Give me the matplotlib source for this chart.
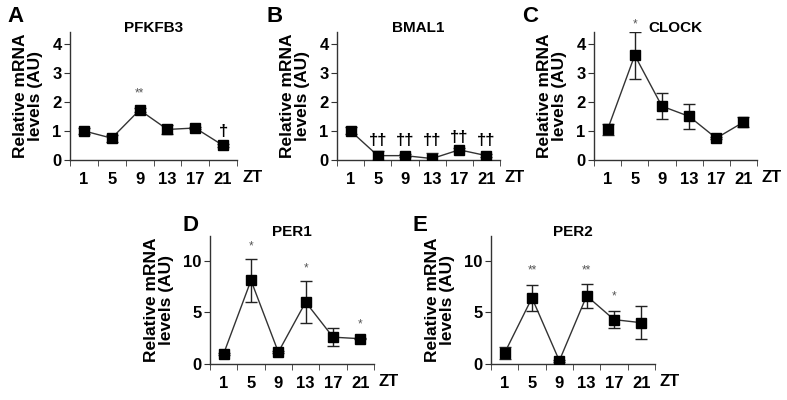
import matplotlib
matplotlib.use('Agg')
import matplotlib.pyplot as plt
import numpy as np

plt.rcParams['font.family'] = ['Liberation Sans', 'DejaVu Sans']

zt = ['1', '5', '9', '13', '17', '21']

pfkfb3 = [1.0, 0.75, 1.72, 1.05, 1.1, 0.5]
pfkfb3_err = [0.1, 0.12, 0.07, 0.17, 0.05, 0.04]
pfkfb3_sig = ['', '', '**', '', '', '†']

bmal1 = [1.0, 0.15, 0.15, 0.05, 0.35, 0.15]
bmal1_err = [0.12, 0.15, 0.05, 0.2, 0.05, 0.05]
bmal1_sig = ['', '††', '††', '††', '††', '††']

clock = [1.05, 3.6, 1.85, 1.5, 0.75, 1.3]
clock_err = [0.2, 0.8, 0.45, 0.43, 0.04, 0.18]
clock_sig = ['', '*', '', '', '', '']

per1 = [1.0, 8.1, 1.15, 6.0, 2.6, 2.45]
per1_err = [0.1, 2.1, 0.1, 2.0, 0.85, 0.05]
per1_sig = ['', '*', '', '*', '', '*']

per2 = [1.08, 6.4, 0.32, 6.6, 4.3, 4.0]
per2_err = [0.55, 1.3, 0.1, 1.15, 0.85, 1.6]
per2_sig = ['', '**', '', '**', '*', '']

W, H = 787, 400
fig = plt.figure(figsize=(W / 100, H / 100), dpi=100)


def panel(left, top, right, bottom, letter, letter_xy, title, vals, errs, sig,
          ymax, yticks, sig_y):
    ax = fig.add_axes([left / W, 1 - bottom / H, (right - left) / W, (bottom - top) / H])
    x = np.arange(len(vals))
    ax.errorbar(x, vals, yerr=errs, fmt='s', color='black', ecolor='#222222',
                elinewidth=1, capsize=4.5, capthick=1, markersize=7.5, zorder=3)
    ax.plot(x, vals, color='#333333', lw=1, zorder=2)
    ax.set_xlim(-0.5, len(vals) - 0.5)
    ax.set_ylim(0, ymax)
    ax.set_yticks(yticks)
    ax.set_yticklabels([str(t) for t in yticks], fontsize=12, fontweight='bold')
    ax.set_xticks(x)
    ax.set_xticklabels(zt, fontsize=12, fontweight='bold')
    ax.tick_params(axis='x', which='major', length=0, pad=9)
    ax.set_xticks(np.arange(len(vals) + 1) - 0.5, minor=True)
    ax.tick_params(axis='x', which='minor', length=4, direction='out', color='#333333')
    ax.tick_params(axis='y', length=4, direction='out', color='#333333', pad=2)
    for s in ['top', 'right']:
        ax.spines[s].set_visible(False)
    for s in ['left', 'bottom']:
        ax.spines[s].set_color('#333333')
        ax.spines[s].set_linewidth(1)
    ax.text(0.5, 1.03, title, transform=ax.transAxes, ha='center', va='center',
            fontsize=11, fontweight='bold')
    ax.set_ylabel('Relative mRNA\nlevels (AU)', fontsize=12.5, fontweight='bold',
                  linespacing=0.95, labelpad=7)
    ax.text(1.03, -0.135, 'ZT', transform=ax.transAxes, ha='left', va='center',
            fontsize=12, fontweight='bold')
    for i, s in enumerate(sig):
        if not s:
            continue
        if '†' in s:
            ax.text(i, sig_y[i], s, ha='center', va='center', fontsize=12,
                    fontweight='bold')
        else:
            ax.text(i, sig_y[i], s, ha='center', va='center', fontsize=8.5,
                    color='#555555')
    fig.text(letter_xy[0] / W, 1 - letter_xy[1] / H, letter, fontsize=16,
             fontweight='bold', ha='left', va='center')
    return ax


panel(70, 32, 237, 160, 'A', (7, 16), 'PFKFB3', pfkfb3, pfkfb3_err, pfkfb3_sig,
      4.4, [0, 1, 2, 3, 4], [0, 0, 2.3, 0, 0, 0.98])
panel(337, 32, 500, 160, 'B', (266, 16), 'BMAL1', bmal1, bmal1_err, bmal1_sig,
      4.4, [0, 1, 2, 3, 4], [0, 0.66, 0.66, 0.66, 0.78, 0.66])
panel(594, 32, 757, 160, 'C', (522, 16), 'CLOCK', clock, clock_err, clock_sig,
      4.4, [0, 1, 2, 3, 4], [0, 4.67, 0, 0, 0, 0])
panel(210, 236, 374, 364, 'D', (182, 226), 'PER1', per1, per1_err, per1_sig,
      12.4, [0, 5, 10], [0, 11.4, 0, 9.3, 0, 3.85])
panel(491, 236, 655, 364, 'E', (412, 226), 'PER2', per2, per2_err, per2_sig,
      12.4, [0, 5, 10], [0, 9.1, 0, 9.1, 6.5, 0])

fig.savefig('out.png', dpi=100)
